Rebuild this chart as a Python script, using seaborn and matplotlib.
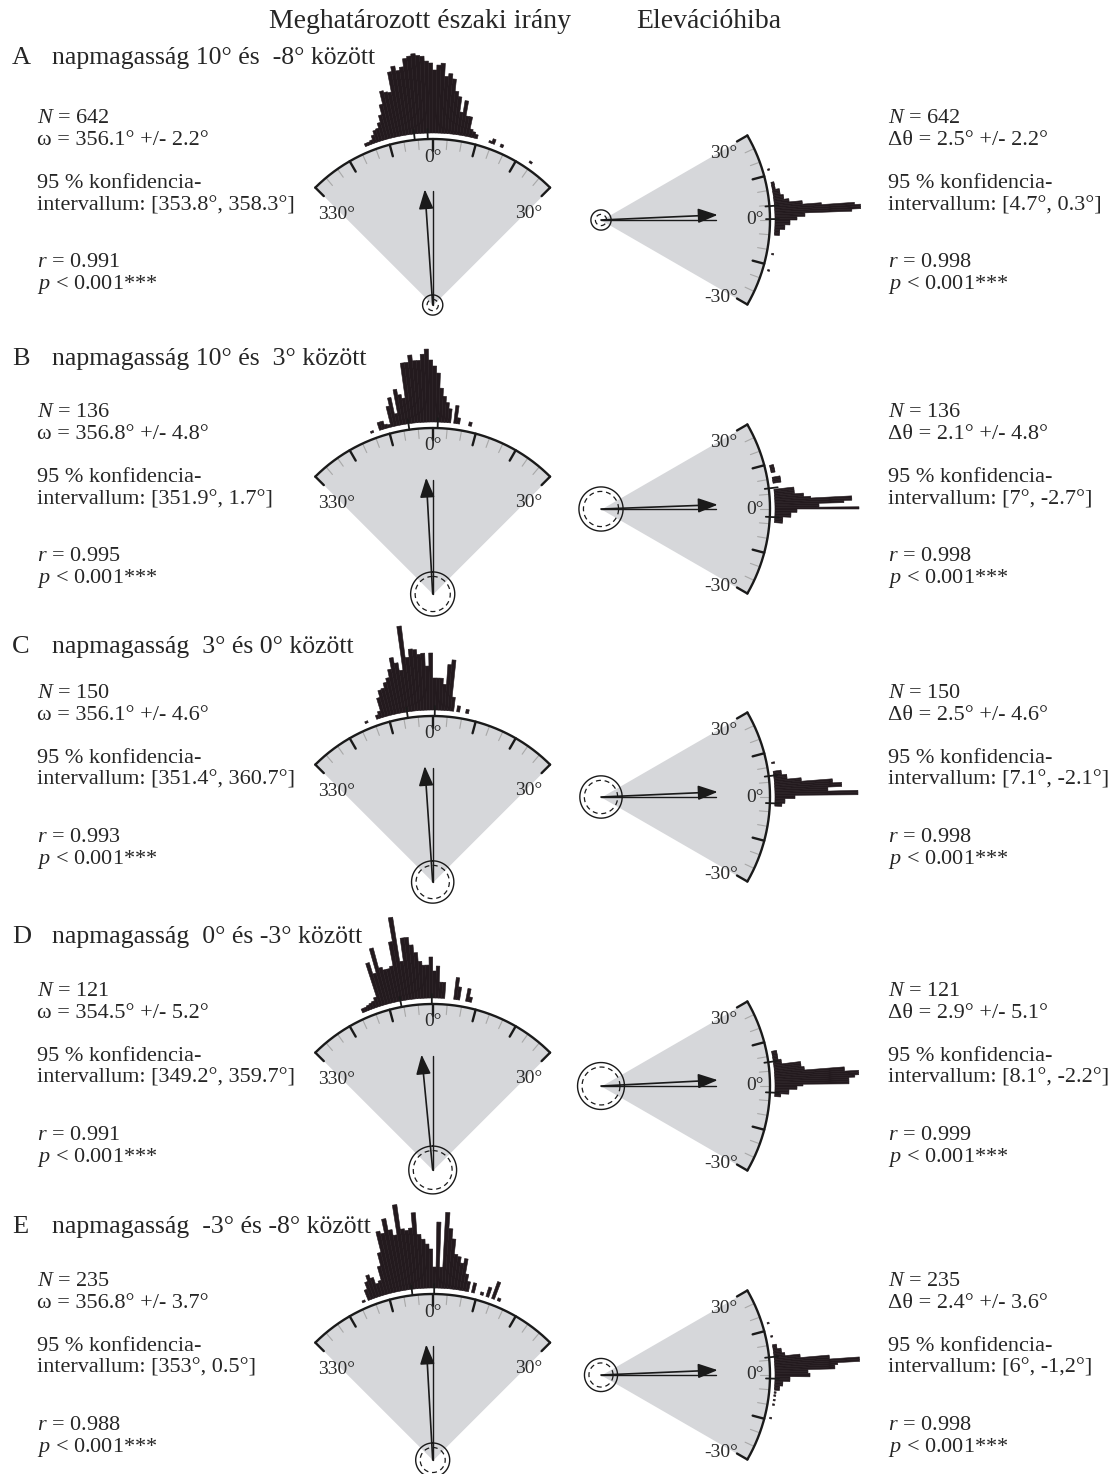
import numpy as np
import matplotlib.pyplot as plt
import seaborn as sns

# --- data ---------------------------------------------------------------
rows = ["A", "B", "C", "D", "E"]
row_titles = ["napmagasság 10° és  -8° között",
              "napmagasság 10° és  3° között",
              "napmagasság  3° és 0° között",
              "napmagasság  0° és -3° között",
              "napmagasság  -3° és -8° között"]
n_obs = [642, 136, 150, 121, 235]

omega = [356.1, 356.8, 356.1, 354.5, 356.8]
omega_pm = [2.2, 4.8, 4.6, 5.2, 3.7]
omega_ci = [(353.8, 358.3), (351.9, 1.7), (351.4, 360.7), (349.2, 359.7), (353, 0.5)]
r_north = [0.991, 0.995, 0.993, 0.991, 0.988]

dtheta = [2.5, 2.1, 2.5, 2.9, 2.4]
dtheta_pm = [2.2, 4.8, 4.6, 5.1, 3.6]
dtheta_ci = [(4.7, 0.3), (7, -2.7), (7.1, -2.1), (8.1, -2.2), (6, -1.2)]
dtheta_ci_text = ["[4.7°, 0.3°]", "[7°, -2.7°]", "[7.1°, -2.1°]", "[8.1°, -2.2°]", "[6°, -1,2°]"]
r_elev = [0.998, 0.998, 0.998, 0.999, 0.998]

# north histograms: 1 degree bins, first bin starts at *_start (deg from north)
north_start = [-23, -21, -23, -24, -24]
north_A = [3, 3, 4, 8, 12, 13, 18, 25, 35, 48, 46, 45, 65, 70, 65, 68, 76, 78, 80,
           78, 77, 72, 70, 63, 68, 70, 57, 60, 55, 43, 38, 23, 35, 20, 20, 8, 6, 4,
           0, 0, 0, 0, 2, 5, 0, 0, 3, 0, 0, 0, 0, 0, 0, 0, 0, 0, 0, 2]
north_B = [2, 0, 0, 8, 8, 4, 3, 21, 29, 12, 36, 30, 26, 61, 61, 68, 62, 62, 68, 73,
           62, 56, 49, 34, 26, 20, 14, 0, 18, 6, 0, 0, 0, 4]
north_C = [2, 0, 0, 0, 4, 7, 20, 27, 28, 33, 37, 45, 56, 50, 42, 86, 54, 62, 61, 56,
           57, 44, 57, 32, 32, 32, 26, 46, 51, 14, 0, 6, 0, 0, 4]
north_D = [4, 4, 5, 6, 7, 10, 45, 33, 58, 37, 34, 34, 36, 60, 84, 39, 62, 62, 54, 46,
           37, 33, 33, 41, 27, 32, 16, 16, 0, 0, 0, 22, 13, 0, 0, 13, 5]
north_E = [2, 0, 11, 18, 24, 20, 13, 15, 29, 42, 63, 60, 74, 62, 56, 86, 61, 59, 61,
           76, 54, 49, 44, 39, 21, 66, 21, 76, 60, 50, 35, 33, 27, 32, 17, 10, 0, 10,
           0, 0, 3, 0, 10, 0, 18, 0, 3]

# elevation-error histograms: 0.5 degree bins
elev_start = [-17.5, -4.5, -3.0, -3.5, -15.0]
elev_A = [0, 2, 0, 0, 0, 0, 0, 0, 0, 0, 0, 0, 2, 0, 0, 0, 0, 0, 0, 0, 0, 0, 0, 0, 0,
          5, 5, 5, 5, 10, 10, 10, 15, 15, 15, 22, 22, 30, 30, 77, 86, 86, 80, 47, 28,
          28, 15, 15, 10, 10, 10, 7, 7, 7, 7, 3, 3, 3, 3, 3,
          0, 0, 0, 0, 0, 0, 0, 0, 2]
elev_B = [8, 8, 8, 8, 16, 16, 16, 22, 22, 84, 44, 44, 69, 77, 77, 36, 29, 29, 20, 20,
          20, 20, 0, 0, 0, 0, 8, 8, 8, 8, 0, 0, 0, 4, 4, 4, 4, 4]
elev_C = [7, 7, 10, 10, 10, 20, 20, 83, 83, 53, 53, 67, 67, 58, 58, 27, 27, 13, 13, 13,
          8, 8, 8, 0, 0, 0, 0, 0, 3]
elev_D = [6, 6, 14, 14, 14, 22, 22, 28, 74, 74, 74, 80, 84, 84, 70, 70, 30, 30, 27, 27,
          27, 8, 8, 8, 5, 5, 5, 5, 5, 5]
elev_E = [0, 2, 0, 0, 0, 0, 0, 0, 0, 0, 2, 0, 0, 2, 0, 0, 2, 0, 2, 0,
          5, 5, 5, 8, 8, 8, 15, 15, 15, 35, 35, 33, 33, 60, 60, 63, 85, 85, 55, 55,
          26, 26, 11, 11, 8, 8, 8, 4, 4, 4,
          0, 0, 0, 0, 0, 2, 0, 0, 0, 0, 0, 0, 0, 0, 2]

north_hists = [north_A, north_B, north_C, north_D, north_E]
elev_hists = [elev_A, elev_B, elev_C, elev_D, elev_E]

# --- layout (pixels) -----------------------------------------------------
W, H = 1112, 1474
title_y = [64, 365, 653, 943, 1233]
stats_y = [123, 417, 698, 996, 1286]
north_apex_y = [305, 594, 882, 1170, 1460]
elev_apex_y = [220, 509, 797, 1086, 1375]
north_cx, elev_cx = 432.7, 601.0

DARK = "#231a1e"
GRAY = "#d6d7da"
TICKGRAY = "#a8a8a8"
LABEL = "#2b2b2b"

sns.set_theme(style="white")
plt.rcParams['font.family'] = ['Liberation Serif', 'DejaVu Serif']
plt.rcParams['mathtext.fontset'] = 'custom'
plt.rcParams['mathtext.rm'] = 'Liberation Serif'
plt.rcParams['mathtext.it'] = 'Liberation Serif:italic'

fig = plt.figure(figsize=(W / 100, H / 100), dpi=100)


def ftext(x, y, s, **kw):
    fig.text(x / W, 1 - y / H, s, **kw)


def polar_at(cx, cy, R, zero):
    ax = fig.add_axes([(cx - R) / W, 1 - (cy + R) / H, 2 * R / W, 2 * R / H],
                      projection='polar')
    ax.set_theta_zero_location(zero)
    if zero == 'N':
        ax.set_theta_direction(-1)
    ax.axis('off')
    return ax


def fan(ax, half, r_arc, major_step, zero_major):
    th = np.deg2rad(np.linspace(-half, half, 300))
    ax.fill_between(th, 0, r_arc, color=GRAY, lw=0, zorder=1)
    ax.plot(th, np.full_like(th, r_arc), color='k', lw=1.7, zorder=3)
    for a in range(-half, half + 1, 5):
        t = np.deg2rad(a)
        if a % major_step == 0 and (a != 0 or zero_major):
            ax.plot([t, t], [r_arc - 12, r_arc], color='k', lw=1.7, zorder=3)
        else:
            ax.plot([t, t], [r_arc - 10, r_arc], color=TICKGRAY, lw=0.8, zorder=2)


def hist(ax, start, width, heights, r_base):
    heights = np.asarray(heights, float)
    centers = np.deg2rad(start + width * (np.arange(len(heights)) + 0.5))
    keep = heights > 0
    ax.bar(centers[keep], heights[keep], width=np.deg2rad(width), bottom=r_base,
           color=DARK, edgecolor=DARK, lw=0.4, zorder=3)


def pointer(ax, ang, rval, pm):
    L = 117 * rval
    ax.plot([0, 0], [0, L - 2], color='k', lw=1.0, zorder=4)
    t = np.deg2rad(ang)
    ax.annotate('', xy=(t, L), xytext=(t, 0),
                arrowprops=dict(arrowstyle='-|>,head_length=0.75,head_width=0.28',
                                color='k', lw=1.2, shrinkA=0, shrinkB=0,
                                mutation_scale=16), zorder=5)
    thf = np.linspace(0, 2 * np.pi, 200)
    rc = pm * 4.6
    ax.plot(thf, np.full_like(thf, rc), color='k', lw=1.0, zorder=5)
    ax.plot(thf, np.full_like(thf, rc - 4.5), color='k', lw=0.9,
            ls=(0, (4, 3)), zorder=5)


ftext(420, 22, "Meghatározott északi irány", fontsize=20, ha='center', va='center')
ftext(709, 22, "Elevációhiba", fontsize=20, ha='center', va='center')

for i in range(5):
    # ---- titles and statistics
    ftext(12, title_y[i], rows[i], fontsize=19, ha='left', va='baseline')
    ftext(52, title_y[i], row_titles[i], fontsize=18.5, ha='left', va='baseline')
    offs = [0, 22, 65, 87, 144, 166]
    c0, c1 = omega_ci[i]
    left_lines = [f"$N$ = {n_obs[i]}",
                  f"ω = {omega[i]}° +/- {omega_pm[i]}°",
                  "95 % konfidencia-",
                  f"intervallum: [{c0:g}°, {c1:g}°]",
                  f"$r$ = {r_north[i]}",
                  "$p$ < 0.001***"]
    right_lines = [f"$N$ = {n_obs[i]}",
                   f"Δθ = {dtheta[i]}° +/- {dtheta_pm[i]}°",
                   "95 % konfidencia-",
                   f"intervallum: {dtheta_ci_text[i]}",
                   f"$r$ = {r_elev[i]}",
                   "$p$ < 0.001***"]
    for o, sl, sr in zip(offs, left_lines, right_lines):
        ftext(37, stats_y[i] + o, sl, fontsize=16, ha='left', va='baseline')
        ftext(888, stats_y[i] + o, sr, fontsize=16, ha='left', va='baseline')

    # ---- north direction fan
    ax = polar_at(north_cx, north_apex_y[i], 270, 'N')
    fan(ax, 45, 166, 15, True)
    hist(ax, north_start[i], 1.0, north_hists[i], 172)
    for c in omega_ci[i]:
        t = np.deg2rad(c)
        ax.plot([t, t], [166, 176], color='k', lw=1.3, zorder=4)
    pointer(ax, omega[i], r_north[i], omega_pm[i])
    ax.text(0, 148, "0°", fontsize=14, ha='center', va='center', color=LABEL)
    ax.text(np.deg2rad(-46.5), 132, "330°", fontsize=14, ha='center', va='center',
            color=LABEL)
    ax.text(np.deg2rad(46.5), 133, "30°", fontsize=14, ha='center', va='center',
            color=LABEL)
    ax.set_ylim(0, 270)

    # ---- elevation error fan
    ax = polar_at(elev_cx, elev_apex_y[i], 275, 'E')
    fan(ax, 30, 169, 15, False)
    hist(ax, elev_start[i], 0.5, elev_hists[i], 174)
    for c in dtheta_ci[i]:
        t = np.deg2rad(c)
        ax.plot([t, t], [165, 178], color='k', lw=1.3, zorder=4)
    pointer(ax, dtheta[i], r_elev[i], dtheta_pm[i])
    ax.text(0, 154, "0°", fontsize=14, ha='center', va='center', color=LABEL)
    ax.text(np.deg2rad(28.5), 140, "30°", fontsize=14, ha='center', va='center',
            color=LABEL)
    ax.text(np.deg2rad(-33), 143, "-30°", fontsize=14, ha='center', va='center',
            color=LABEL)
    ax.set_ylim(0, 275)

fig.savefig("out.png", dpi=100)
